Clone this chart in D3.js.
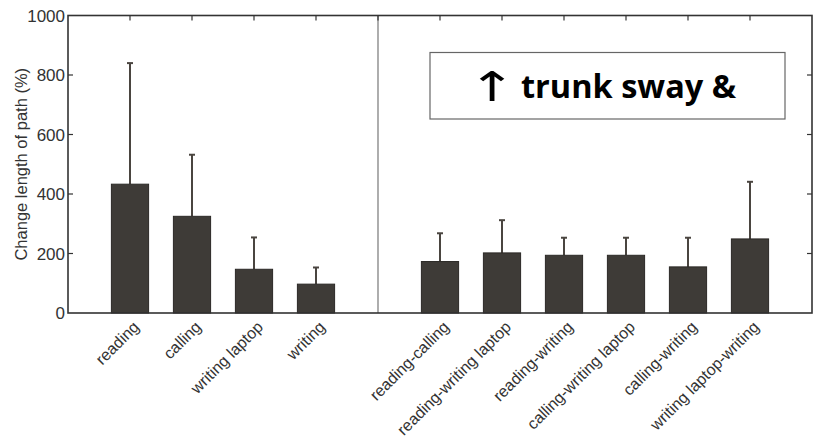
<!DOCTYPE html>
<meta charset="utf-8">
<style>
  body { margin: 0; background: #fff; }
  svg { display: block; }
</style>
<svg width="816" height="442"></svg>
<script src="https://d3js.org/d3.v7.min.js"></script>
<script>

var categories = ["reading", "calling", "writing laptop", "writing",
    "reading-calling", "reading-writing laptop", "reading-writing",
    "calling-writing laptop", "calling-writing", "writing laptop-writing"],
    slots = [1, 2, 3, 4, 6, 7, 8, 9, 10, 11],
    means = [433, 325, 147, 97, 173, 202, 194, 194, 155, 249],
    upper = [840, 532, 254, 153, 268, 312, 253, 253, 253, 441],
    yTicks = [0, 200, 400, 600, 800, 1000];

var plotL = 68, plotR = 812, plotT = 15.5, plotB = 313;

var x = d3.scaleLinear().domain([0, 12]).range([plotL, plotR]),
    y = d3.scaleLinear().domain([0, 1000]).range([plotB, plotT]);

var svg = d3.select("svg"),
    barW = x(0.6) - x(0);

var data = categories.map(function(c, i) {
  return {name: c, slot: slots[i], mean: means[i], hi: upper[i]};
});

// divider between single and dual tasks
svg.append("line")
    .attr("x1", x(5)).attr("x2", x(5))
    .attr("y1", plotT).attr("y2", plotB)
    .attr("stroke", "#777").attr("stroke-width", 1.2);

// error bars (upper only)
var err = svg.append("g").attr("stroke", "#4a4540").attr("stroke-width", 2);
data.forEach(function(d) {
  err.append("line")
      .attr("x1", x(d.slot)).attr("x2", x(d.slot))
      .attr("y1", y(d.mean)).attr("y2", y(d.hi));
  err.append("line")
      .attr("x1", x(d.slot) - 3).attr("x2", x(d.slot) + 3)
      .attr("y1", y(d.hi)).attr("y2", y(d.hi));
});

svg.append("g").selectAll("rect")
  .data(data)
  .join("rect")
    .attr("x", function(d) { return x(d.slot) - barW / 2; })
    .attr("y", function(d) { return y(d.mean); })
    .attr("width", barW)
    .attr("height", function(d) { return y(0) - y(d.mean); })
    .attr("fill", "#3e3b37")
    .attr("stroke", "#2b2926")
    .attr("stroke-width", 1);

// frame
svg.append("rect")
    .attr("x", plotL).attr("y", plotT)
    .attr("width", plotR - plotL).attr("height", plotB - plotT)
    .attr("fill", "none").attr("stroke", "#333").attr("stroke-width", 1.6);

// inward ticks
var tk = svg.append("g").attr("stroke", "#333").attr("stroke-width", 1.2);
yTicks.slice(1, -1).forEach(function(t) {
  tk.append("line").attr("x1", plotL).attr("x2", plotL + 5).attr("y1", y(t)).attr("y2", y(t));
  tk.append("line").attr("x1", plotR).attr("x2", plotR - 5).attr("y1", y(t)).attr("y2", y(t));
});
d3.range(1, 12).forEach(function(s) {
  tk.append("line").attr("x1", x(s)).attr("x2", x(s)).attr("y1", plotT).attr("y2", plotT + 5);
});

// y tick labels
svg.append("g").selectAll("text")
  .data(yTicks)
  .join("text")
    .attr("x", plotL - 3)
    .attr("y", function(d) { return y(d); })
    .attr("dy", "0.36em")
    .attr("text-anchor", "end")
    .attr("font-family", "Liberation Sans, Arial, sans-serif")
    .attr("font-size", 17)
    .attr("fill", "#333")
    .text(function(d) { return d; });

svg.append("text")
    .attr("transform", "translate(27," + ((plotT + plotB) / 2) + ") rotate(-90)")
    .attr("text-anchor", "middle")
    .attr("font-family", "Liberation Sans, Arial, sans-serif")
    .attr("font-size", 16.5)
    .attr("fill", "#333")
    .text("Change length of path (%)");

// x labels
svg.append("g").selectAll("text")
  .data(data)
  .join("text")
    .attr("transform", function(d) { return "translate(" + (x(d.slot) + 10) + "," + (plotB + 15) + ") rotate(-45)"; })
    .attr("text-anchor", "end")
    .attr("font-family", "Liberation Sans, Arial, sans-serif")
    .attr("font-size", 16)
    .attr("fill", "#333")
    .text(function(d) { return d.name; });

// annotation box
svg.append("rect")
    .attr("x", 430).attr("y", 52.5)
    .attr("width", 355).attr("height", 66.5)
    .attr("fill", "#fff").attr("stroke", "#666").attr("stroke-width", 1.2);

svg.append("text")
    .attr("transform", "translate(492,101) scale(1.4,1)")
    .attr("text-anchor", "middle")
    .attr("font-family", "DejaVu Sans, sans-serif")
    .attr("font-size", 41)
    .attr("fill", "#000")
    .text("\u2191");

svg.append("text")
    .attr("x", 521).attr("y", 98)
    .attr("font-family", "Open Sans, sans-serif")
    .attr("font-weight", "bold")
    .attr("font-size", 32.5)
    .attr("fill", "#000")
    .text("trunk sway &");

</script>
